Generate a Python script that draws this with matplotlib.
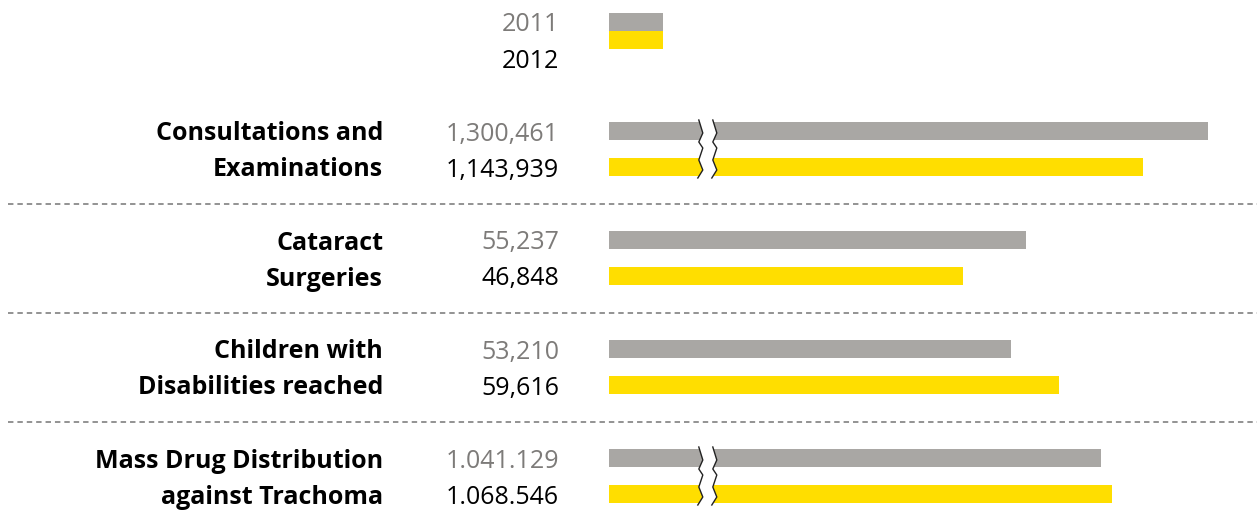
import matplotlib
matplotlib.use("Agg")
import matplotlib.pyplot as plt
import numpy as np

# ---- data ----
categories = ["Consultations and\nExaminations", "Cataract\nSurgeries",
              "Children with\nDisabilities reached", "Mass Drug Distribution\nagainst Trachoma"]
values_2011 = [1300461, 55237, 53210, 1041129]
values_2012 = [1143939, 46848, 59616, 1068546]
labels_2011 = ["1,300,461", "55,237", "53,210", "1.041.129"]
labels_2012 = ["1,143,939", "46,848", "59,616", "1.068.546"]
broken = [True, False, False, True]
years = ["2011", "2012"]

GRAY = "#a9a7a4"
YELLOW = "#ffde00"
GRAY_TXT = "#7d7b79"
FONT = "Open Sans"
FS = 18

W, H = 1257, 527
fig = plt.figure(figsize=(W / 100, H / 100), dpi=100)

# background axes in pixel coordinates for text & separators
bg = fig.add_axes([0, 0, 1, 1])
bg.set_xlim(0, W)
bg.set_ylim(H, 0)
bg.axis("off")

x0 = 609
ax = fig.add_axes([x0 / W, 0, (W - x0) / W, 1])
ax.set_ylim(H, 0)
ax.set_xlim(0, 85860)          # ~132.5 units per pixel
ax.axis("off")
ax2 = ax.twiny()
ax2.set_ylim(H, 0)
ax2.set_xlim(-150000, 1419300)  # compressed scale for broken bars
ax2.axis("off")

bar_h = 18
row0 = 131
group_step = 109
pair_step = 36
base_off = 9.5

# legend
ax.barh([22], [7150], height=bar_h, color=GRAY, left=0)
ax.barh([40], [7150], height=bar_h, color=YELLOW, left=0)
bg.text(559, 31, years[0], ha="right", va="baseline", fontsize=FS, color=GRAY_TXT, family=FONT)
bg.text(559, 68, years[1], ha="right", va="baseline", fontsize=FS, color="black", family=FONT)

for i, cat in enumerate(categories):
    y1 = row0 + i * group_step
    y2 = y1 + pair_step
    if broken[i]:
        xmin = ax2.get_xlim()[0]
        ax2.barh([y1, y2], [values_2011[i] - xmin, values_2012[i] - xmin],
                 left=xmin, height=bar_h, color=[GRAY, YELLOW])
        # break mark (drawn above the bars, in main-axis units)
        zz_y = np.array([y1 - 11, y1 + 2, y1 + 11, y1 + 17, y2 - 7, y2 + 3, y2 + 11])
        zz_dx = np.array([0, 4, 0, 4, 0, 4, -1]) * 132.5
        left_x = 11900 + zz_dx
        right_x = left_x + 14 * 132.5
        poly_x = np.concatenate([left_x, right_x[::-1]])
        poly_y = np.concatenate([zz_y, zz_y[::-1]])
        ax2.fill(poly_x, poly_y, color="white", zorder=3, lw=0, transform=ax.transData)
        ax2.plot(left_x, zz_y, color="#222222", lw=1.0, zorder=4, transform=ax.transData)
        ax2.plot(right_x, zz_y, color="#222222", lw=1.0, zorder=4, transform=ax.transData)
    else:
        ax.barh([y1, y2], [values_2011[i], values_2012[i]], height=bar_h,
                color=[GRAY, YELLOW])
    l1, l2 = cat.split("\n")
    bg.text(383, y1 + base_off, l1, ha="right", va="baseline", fontsize=FS,
            fontweight="bold", color="black", family=FONT)
    bg.text(383, y2 + base_off, l2, ha="right", va="baseline", fontsize=FS,
            fontweight="bold", color="black", family=FONT)
    bg.text(559, y1 + base_off, labels_2011[i], ha="right", va="baseline", fontsize=FS,
            color=GRAY_TXT, family=FONT)
    bg.text(559, y2 + base_off, labels_2012[i], ha="right", va="baseline", fontsize=FS,
            color="black", family=FONT)
    if i > 0:
        bg.plot([8, W], [204 + (i - 1) * group_step] * 2, color="#8a8a8a", lw=1.3,
                linestyle=(0, (3, 2.2)))

fig.savefig("out.png", dpi=100)
